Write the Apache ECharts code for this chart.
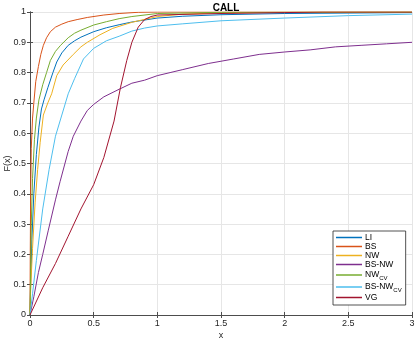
<!DOCTYPE html>
<html><head><meta charset="utf-8">
<script src="https://cdn.jsdelivr.net/npm/echarts@6/dist/echarts.min.js"></script>
<style>html,body{margin:0;padding:0;background:#fff}#c{width:415px;height:341px}</style>
</head><body><div id="c"></div>
<script>
const title = 'CALL';
const seriesNames = ['LI', 'BS', 'NW', 'BS-NW', 'NW_CV', 'BS-NW_CV', 'VG'];
const xTicks = [0, 0.5, 1, 1.5, 2, 2.5, 3];
const yTicks = [0, 0.1, 0.2, 0.3, 0.4, 0.5, 0.6, 0.7, 0.8, 0.9, 1];

const LI = [[0,0],[0.005,0.1],[0.015,0.25],[0.03,0.4],[0.05,0.53],[0.07,0.62],[0.09,0.68],[0.11,0.71],[0.14,0.75],[0.18,0.8],[0.21,0.835],[0.25,0.865],[0.3,0.89],[0.35,0.905],[0.4,0.917],[0.5,0.935],[0.6,0.948],[0.7,0.958],[0.8,0.967],[1.0,0.98],[1.2,0.986],[1.5,0.991],[2.0,0.995],[3,0.998]];
const BS = [[0,0],[0.002,0.2],[0.005,0.4],[0.01,0.55],[0.02,0.65],[0.03,0.7],[0.045,0.77],[0.066,0.82],[0.085,0.86],[0.105,0.89],[0.13,0.915],[0.16,0.935],[0.2,0.95],[0.25,0.96],[0.3,0.968],[0.37,0.975],[0.45,0.982],[0.58,0.99],[0.7,0.995],[0.85,0.999],[1,1],[3,1]];
const NW = [[0,0],[0.005,0.08],[0.02,0.22],[0.04,0.37],[0.06,0.48],[0.08,0.57],[0.105,0.66],[0.14,0.7],[0.17,0.73],[0.21,0.79],[0.26,0.825],[0.34,0.86],[0.4,0.885],[0.45,0.9],[0.55,0.925],[0.65,0.946],[0.8,0.966],[1.0,0.985],[1.2,0.993],[1.5,0.997],[2,0.999],[3,1]];
const BSNW = [[0,0],[0.03,0.06],[0.066,0.14],[0.1,0.2],[0.144,0.28],[0.2,0.38],[0.236,0.44],[0.3,0.54],[0.34,0.59],[0.4,0.64],[0.45,0.675],[0.5,0.695],[0.58,0.72],[0.7,0.745],[0.8,0.765],[0.9,0.775],[1.0,0.79],[1.1,0.8],[1.2,0.81],[1.4,0.83],[1.6,0.845],[1.8,0.86],[2.0,0.868],[2.2,0.875],[2.4,0.885],[2.6,0.89],[2.8,0.895],[3.0,0.9]];
const NWCV = [[0,0],[0.005,0.15],[0.01,0.3],[0.02,0.45],[0.035,0.58],[0.05,0.65],[0.07,0.71],[0.1,0.76],[0.13,0.8],[0.16,0.84],[0.2,0.87],[0.24,0.89],[0.3,0.915],[0.35,0.93],[0.4,0.94],[0.5,0.957],[0.6,0.968],[0.7,0.978],[0.8,0.985],[1.0,0.995],[1.5,0.999],[3,1]];
const BSNWCV = [[0,0],[0.02,0.07],[0.05,0.18],[0.1,0.35],[0.15,0.48],[0.2,0.59],[0.25,0.66],[0.3,0.73],[0.35,0.78],[0.42,0.845],[0.5,0.88],[0.6,0.905],[0.7,0.92],[0.8,0.937],[0.9,0.947],[1.0,0.954],[1.2,0.961],[1.5,0.971],[2.0,0.98],[2.5,0.988],[3.0,0.993]];
const VG = [[0,0],[0.1,0.09],[0.2,0.17],[0.3,0.26],[0.4,0.35],[0.5,0.43],[0.58,0.52],[0.66,0.64],[0.71,0.75],[0.76,0.84],[0.8,0.9],[0.85,0.95],[0.9,0.975],[0.95,0.985],[1.0,0.99],[1.5,0.995],[2.0,0.998],[2.3,1.0],[3,1]];

const seriesData = [LI, BS, NW, BSNW, NWCV, BSNWCV, VG];
const colors = ['#0072BD', '#D95319', '#EDB120', '#7E2F8E', '#77AC30', '#4DBEEE', '#A2142F'];

const axisCol = '#4d4d4d';
const font = 'Liberation Sans, Arial, Helvetica, sans-serif';

const chart = echarts.init(document.getElementById('c'), null, {renderer: 'canvas'});
const baseAxis = (min, max, interval) => ({
  type: 'value', min, max, interval,
  axisLine: {show: true, lineStyle: {color: axisCol, width: 1}},
  axisTick: {show: true, inside: true, length: 3, lineStyle: {color: axisCol}},
  splitLine: {show: false},
  axisLabel: {show: false}
});
chart.setOption({
  animation: false,
  backgroundColor: '#fff',
  title: {text: title, left: 221, textAlign: 'center', top: -2,
    textStyle: {fontSize: 10, fontWeight: 'bold', color: '#000', fontFamily: font}},
  grid: {left: 30, right: 3, top: 12, bottom: 26, containLabel: false, outerBoundsMode: 'none'},
  xAxis: [
    Object.assign(baseAxis(0, 3, 0.5), {
      position: 'bottom', name: 'x', nameLocation: 'middle', nameGap: 16, nameMoveOverlap: false,
      nameTextStyle: {fontSize: 9, color: '#262626', fontFamily: font},
      axisLabel: {show: true, fontSize: 9, color: '#262626', margin: 4, fontFamily: font,
        formatter: v => (xTicks.includes(v) ? String(v) : '')},
      splitLine: {show: true, lineStyle: {color: '#e6e6e6', width: 1}}
    }),
    Object.assign(baseAxis(0, 3, 0.5), {position: 'top'})
  ],
  yAxis: [
    Object.assign(baseAxis(0, 1, 0.1), {
      position: 'left', name: 'F(x)', nameLocation: 'middle', nameGap: 18, nameRotate: 90, nameMoveOverlap: false,
      nameTextStyle: {fontSize: 9, color: '#262626', fontFamily: font},
      axisLabel: {show: true, fontSize: 9, color: '#262626', margin: 4, fontFamily: font,
        formatter: v => { const t = yTicks.find(q => Math.abs(q - v) < 1e-9); return t === undefined ? '' : String(t); }},
      splitLine: {show: true, lineStyle: {color: '#e6e6e6', width: 1}}
    }),
    Object.assign(baseAxis(0, 1, 0.1), {position: 'right'})
  ],
  legend: {
    orient: 'vertical', left: 333, top: 231,
    padding: [2, 4, 3, 3], itemGap: 0,
    itemWidth: 26, itemHeight: 1.5, icon: 'rect',
    backgroundColor: '#fff', borderColor: '#262626', borderWidth: 0.8,
    data: seriesNames,
    formatter: n => n.endsWith('_CV') ? n.replace('_CV', '') + '{sub|CV}' : n,
    textStyle: {fontSize: 8.5, color: '#000', fontFamily: font, lineHeight: 9, padding: [0, 0, 0, -2],
      rich: {sub: {fontSize: 6, lineHeight: 9, padding: [6, 0, 0, 0], fontFamily: font, color: '#000'}}}
  },
  series: seriesNames.map((n, i) => ({
    name: n, type: 'line', data: seriesData[i], xAxisIndex: 0, yAxisIndex: 0,
    showSymbol: false, symbol: 'none', smooth: false,
    lineStyle: {color: colors[i], width: 1}, itemStyle: {color: colors[i]},
    clip: true
  }))
});
</script></body></html>
